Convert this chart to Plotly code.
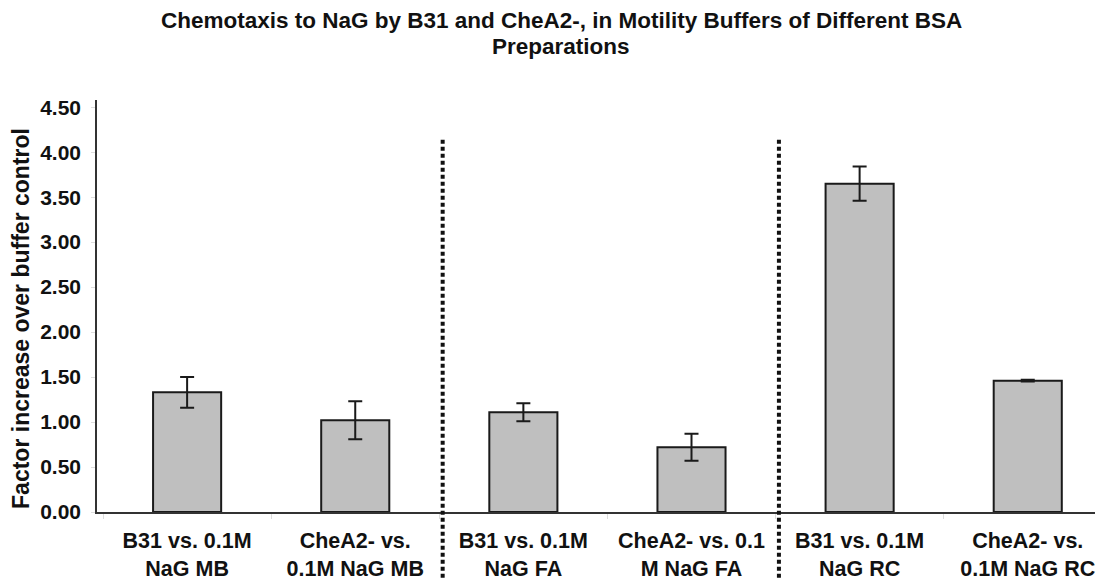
import plotly.graph_objects as go

# Chemotaxis factor over buffer control, per strain / BSA preparation
categories = [
    "B31 vs. 0.1M<br>NaG MB",
    "CheA2- vs.<br>0.1M NaG MB",
    "B31 vs. 0.1M<br>NaG FA",
    "CheA2- vs. 0.1<br>M NaG FA",
    "B31 vs. 0.1M<br>NaG RC",
    "CheA2- vs.<br>0.1M NaG RC",
]
factor = [1.33, 1.02, 1.11, 0.72, 3.65, 1.46]
error = [0.17, 0.21, 0.10, 0.15, 0.19, 0.01]
y_ticks = [0, 0.5, 1.0, 1.5, 2.0, 2.5, 3.0, 3.5, 4.0, 4.5]

title_lines = [
    "Chemotaxis to NaG by B31 and CheA2-, in Motility Buffers of Different BSA",
    "Preparations",
]
y_title = "Factor increase over buffer control"

# group separators sit between the MB / FA / RC pairs
separators = [1.52, 3.52]
x_range = [-0.536, 5.40]
y_range = [0, 4.58]

W, H = 1102, 588
M = dict(l=97, r=7, t=100, b=74)
font_family = "Liberation Sans, Arial, sans-serif"
ink = "#111111"

fig = go.Figure(
    go.Bar(
        x=categories,
        y=factor,
        width=0.405,
        marker=dict(color="#bfbfbf", line=dict(color="#1a1a1a", width=2)),
        error_y=dict(type="data", array=error, visible=True,
                     color="#1a1a1a", thickness=2, width=7),
    )
)

plot_h = H - M["t"] - M["b"]
plot_w = W - M["l"] - M["r"]


def paper_y(py):
    """Page pixel row -> paper fraction."""
    return (H - M["b"] - py) / plot_h


def paper_x(px):
    return (px - M["l"]) / plot_w


for sx in separators:
    px = (sx - x_range[0]) / (x_range[1] - x_range[0])
    fig.add_shape(
        type="line", xref="paper", yref="paper",
        x0=px, x1=px, y0=paper_y(140), y1=paper_y(582),
        line=dict(color=ink, width=4, dash="4px,3px"),
        layer="above",
    )

# two-line chart title with tight line spacing
for line, py in zip(title_lines, [20, 46]):
    fig.add_annotation(
        text=f"<b>{line}</b>", xref="paper", yref="paper",
        x=paper_x(561), y=paper_y(py), xanchor="center", yanchor="middle",
        showarrow=False, font=dict(size=22.5, family=font_family, color=ink),
    )

fig.add_annotation(
    text=f"<b>{y_title}</b>", xref="paper", yref="paper",
    x=paper_x(21), y=paper_y(320), xanchor="center", yanchor="middle",
    textangle=-90, showarrow=False,
    font=dict(size=23, family=font_family, color=ink),
)

fig.update_layout(
    width=W, height=H,
    margin=M,
    paper_bgcolor="white", plot_bgcolor="white",
    showlegend=False,
    font=dict(family=font_family, color=ink),
)

fig.update_xaxes(
    type="category",
    range=x_range,
    showline=True, linecolor="#333333", linewidth=1.5,
    showgrid=False,
    ticks="outside", tickson="boundaries", ticklen=5, tickcolor="#dddddd",
    tickfont=dict(size=21.5, family=font_family, color=ink),
    ticklabelstandoff=8,
    tickprefix="<b>", ticksuffix="</b>",
)

fig.update_yaxes(
    range=y_range,
    tickvals=y_ticks,
    ticktext=[f"<b>{v:.2f}</b>" for v in y_ticks],
    showline=True, linecolor="#333333", linewidth=1.5,
    showgrid=False, zeroline=False,
    ticks="outside", ticklen=4, tickcolor="#dddddd",
    tickfont=dict(size=21, family=font_family, color=ink),
    ticklabelstandoff=6,
)

fig.write_html("out.html")
